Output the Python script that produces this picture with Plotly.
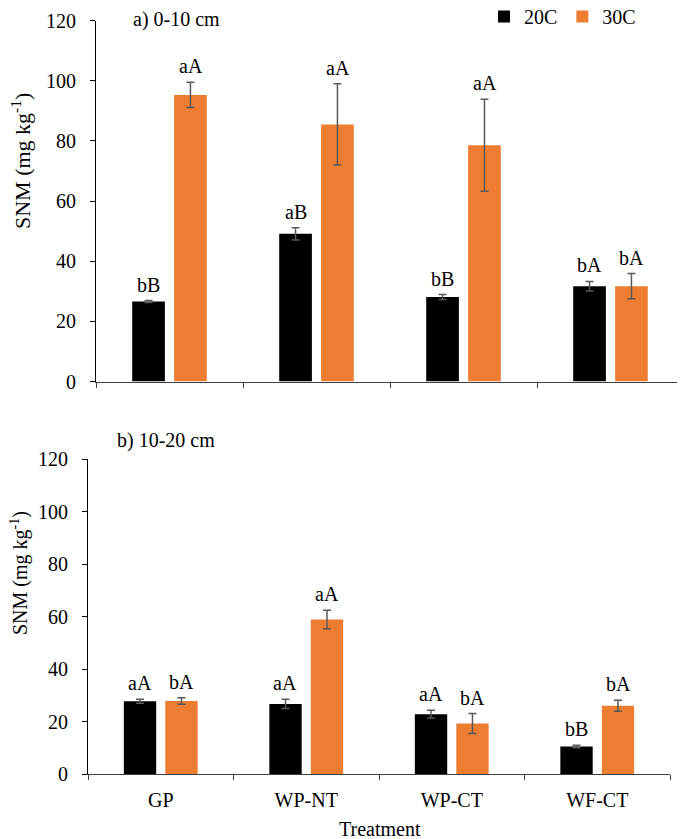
import plotly.graph_objects as go
from plotly.subplots import make_subplots

treatments = ['GP', 'WP-NT', 'WP-CT', 'WF-CT']

# a) 0-10 cm
top_20c = [26.6, 49.1, 28.1, 31.7]
top_20c_err = [0.3, 2.0, 0.8, 1.6]
top_30c = [95.3, 85.5, 78.6, 31.7]
top_30c_err = [4.2, 13.5, 15.3, 4.2]
top_20c_letters = ['bB', 'aB', 'bB', 'bA']
top_30c_letters = ['aA', 'aA', 'aA', 'bA']

# b) 10-20 cm
bot_20c = [27.8, 26.8, 22.9, 10.6]
bot_20c_err = [0.8, 1.8, 1.5, 0.5]
bot_30c = [27.9, 58.9, 19.3, 26.1]
bot_30c_err = [1.2, 3.5, 3.8, 2.1]
bot_20c_letters = ['aA', 'aA', 'aA', 'bB']
bot_30c_letters = ['bA', 'aA', 'bA', 'bA']

y_ticks = [0, 20, 40, 60, 80, 100, 120]

W, H = 685, 839
OFF = 8  # page body margin
FONT = 'Liberation Serif, Times New Roman, DejaVu Serif, serif'
BLACK = '#000000'
ORANGE = '#ED7D31'
ERR = '#595959'


def px_x(p):
    return (p - OFF) / W


def px_y(p):
    return 1 - (p - OFF) / H


fig = make_subplots(rows=2, cols=1)

panels = [
    (1, top_20c, top_20c_err, top_30c, top_30c_err, top_20c_letters, top_30c_letters),
    (2, bot_20c, bot_20c_err, bot_30c, bot_30c_err, bot_20c_letters, bot_30c_letters),
]

for row, v20, e20, v30, e30, l20, l30 in panels:
    for name, vals, errs, color in [('20C', v20, e20, BLACK), ('30C', v30, e30, ORANGE)]:
        fig.add_trace(go.Bar(
            x=treatments, y=vals, name=name, marker_color=color,
            marker_line_width=0, showlegend=(row == 1),
            error_y=dict(type='data', array=errs, visible=True,
                         color=ERR, thickness=1.5, width=4),
        ), row=row, col=1)
    xref = 'x' if row == 1 else 'x2'
    yref = 'y' if row == 1 else 'y2'
    for i, t in enumerate(treatments):
        for vals, errs, letters, shift in [(v20, e20, l20, -21), (v30, e30, l30, 21)]:
            fig.add_annotation(x=t, y=vals[i] + errs[i], xref=xref, yref=yref,
                               text=letters[i], showarrow=False, xshift=shift,
                               yanchor='bottom', yshift=3,
                               font=dict(family=FONT, size=20, color='black'))

axis_font = dict(family=FONT, size=20, color='black')

fig.update_yaxes(range=[0, 120], tickvals=y_ticks, showgrid=False, zeroline=False,
                 showline=True, linecolor='black', linewidth=1,
                 ticks='outside', ticklen=5, tickcolor='black',
                 tickfont=axis_font, ticklabelstandoff=10, automargin=False)
fig.update_xaxes(showgrid=False, zeroline=False, showline=True,
                 linecolor='#404040', linewidth=1.3,
                 ticks='outside', tickson='boundaries', ticklen=5, tickcolor='#404040',
                 tickfont=axis_font, ticklabelstandoff=8, automargin=False)

fig.update_layout(
    xaxis=dict(domain=[px_x(96), px_x(684)], showticklabels=False),
    yaxis=dict(domain=[px_y(381.5), px_y(20.7)]),
    xaxis2=dict(domain=[px_x(88), px_x(670)]),
    yaxis2=dict(domain=[px_y(774.3), px_y(459)]),
)

# panel labels, axis titles
fig.add_annotation(x=px_x(131), y=px_y(20), xref='paper', yref='paper', text='a) 0-10 cm',
                   showarrow=False, xanchor='left', yanchor='middle', font=axis_font)
fig.add_annotation(x=px_x(115), y=px_y(440), xref='paper', yref='paper', text='b) 10-20 cm',
                   showarrow=False, xanchor='left', yanchor='middle', font=axis_font)
for yc, size, xc in [(161, 22, 21), (573, 20, 19)]:
    fig.add_annotation(x=px_x(xc), y=px_y(yc), xref='paper', yref='paper',
                       text='SNM (mg kg<sup>-1</sup>)', textangle=-90, showarrow=False,
                       xanchor='center', yanchor='middle',
                       font=dict(family=FONT, size=size, color='black'))
fig.add_annotation(x=px_x(380), y=px_y(829), xref='paper', yref='paper', text='Treatment',
                   showarrow=False, xanchor='center', yanchor='middle', font=axis_font)

fig.update_layout(
    width=W, height=H,
    margin=dict(l=0, r=0, t=0, b=0, autoexpand=False),
    plot_bgcolor='white', paper_bgcolor='white',
    barmode='group', bargap=0.43, bargroupgap=0.22,
    font=dict(family=FONT, size=20, color='black'),
    legend=dict(orientation='h', x=px_x(484), y=px_y(-3), xanchor='left', yanchor='top',
                font=axis_font, tracegroupgap=0,
                bgcolor='rgba(0,0,0,0)'),
)

fig.write_html('out.html')
